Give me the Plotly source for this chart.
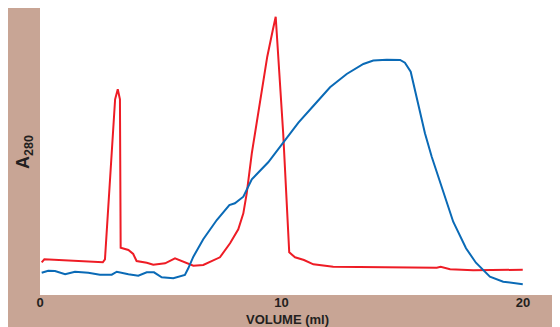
import plotly.graph_objects as go

# Elution profile (volume in ml, A280 in arbitrary units)
red_volume = [0.07, 0.18, 2.60, 2.69, 3.11, 3.22, 3.31, 3.34, 3.66, 3.86, 4.00, 4.42, 4.69,
              5.18, 5.59, 5.87, 6.35, 6.76, 7.45, 7.87, 8.21, 8.42, 8.56, 8.77, 9.11, 9.41,
              9.64, 9.76, 10.07, 10.32, 10.56, 10.93, 11.32, 12.14, 16.43, 16.59, 16.98,
              17.94, 19.99]
red_a280 = [0.327, 0.357, 0.327, 0.357, 1.957, 2.057, 1.957, 0.473, 0.450, 0.410, 0.340,
            0.323, 0.303, 0.317, 0.367, 0.340, 0.293, 0.300, 0.377, 0.517, 0.657, 0.817,
            1.017, 1.417, 1.950, 2.383, 2.650, 2.783, 1.617, 0.427, 0.377, 0.350, 0.307,
            0.283, 0.273, 0.283, 0.257, 0.247, 0.253]

blue_volume = [0.07, 0.34, 0.62, 1.04, 1.45, 2.00, 2.48, 2.97, 3.18, 3.66, 4.07, 4.42, 4.72,
               5.04, 5.52, 6.00, 6.14, 6.35, 6.76, 7.32, 7.84, 8.07, 8.42, 8.63, 8.77, 9.45,
               9.94, 10.35, 10.70, 11.39, 12.01, 12.70, 13.39, 13.80, 14.36, 14.91, 15.11,
               15.35, 15.66, 15.94, 16.22, 16.63, 17.11, 17.64, 18.05, 18.63, 19.18, 19.99]
blue_a280 = [0.223, 0.243, 0.240, 0.207, 0.233, 0.223, 0.203, 0.203, 0.233, 0.207, 0.193,
             0.227, 0.227, 0.177, 0.167, 0.200, 0.267, 0.383, 0.557, 0.750, 0.900, 0.917,
             0.983, 1.083, 1.157, 1.327, 1.483, 1.617, 1.723, 1.910, 2.077, 2.210, 2.310,
             2.345, 2.353, 2.350, 2.323, 2.233, 1.917, 1.617, 1.383, 1.083, 0.733, 0.467,
             0.323, 0.183, 0.133, 0.107]

x_ticks = [0, 10, 20]
x_tick_labels = ["0", "10", "20"]

RED = "#ee1c25"
BLUE = "#0a6ab6"
TAN = "#c8a595"
TEXT = "#231f20"
FONT = "Liberation Sans"

fig = go.Figure()
fig.add_trace(go.Scatter(x=red_volume, y=red_a280, mode="lines",
                         line=dict(color=RED, width=2), hoverinfo="skip"))
fig.add_trace(go.Scatter(x=blue_volume, y=blue_a280, mode="lines",
                         line=dict(color=BLUE, width=2), hoverinfo="skip"))

# figure sits 8px into the page (browser body margin); its right side runs past the window
W, H = 560, 319
L, R, T, B = 32, 0, 0, 32
pw, ph = W - L - R, H - T - B

def px_x(p):  # figure-pixel x -> paper
    return (p - L) / pw

def px_y(p):  # figure-pixel y -> paper
    return (H - B - p) / ph

shapes = [
    dict(type="rect", xref="paper", yref="paper", layer="below",
         x0=px_x(0), x1=px_x(L), y0=px_y(H + 5), y1=px_y(0),
         fillcolor=TAN, line=dict(width=0)),
    dict(type="rect", xref="paper", yref="paper", layer="below",
         x0=px_x(0), x1=1.3, y0=px_y(H + 5), y1=0,
         fillcolor=TAN, line=dict(width=0)),
]

annotations = [
    dict(text="<b>VOLUME (ml)</b>", xref="paper", yref="paper",
         x=px_x(279), y=px_y(311), xanchor="center", yanchor="middle",
         showarrow=False, font=dict(family=FONT, size=13, color=TEXT)),
    dict(text="<b>A<sub>280</sub></b>", xref="paper", yref="paper",
         x=px_x(16), y=px_y(144), xanchor="center", yanchor="middle",
         textangle=-90, showarrow=False,
         font=dict(family=FONT, size=18, color=TEXT)),
]

fig.update_layout(
    width=W, height=H,
    margin=dict(l=L, r=R, t=T, b=B, pad=0, autoexpand=False),
    paper_bgcolor="white", plot_bgcolor="white",
    showlegend=False,
    shapes=shapes,
    annotations=annotations,
    xaxis=dict(range=[0, pw / 24.15], tickvals=x_ticks, ticktext=x_tick_labels,
               showgrid=False, zeroline=False, showline=False, ticks="",
               ticklabelstandoff=-2,
               tickfont=dict(family=FONT, size=13, color=TEXT, weight="bold"),
               fixedrange=True),
    yaxis=dict(range=[0, 2.87], showgrid=False, zeroline=False, showline=False,
               showticklabels=False, ticks="", fixedrange=True),
)

fig.write_html("out.html")
